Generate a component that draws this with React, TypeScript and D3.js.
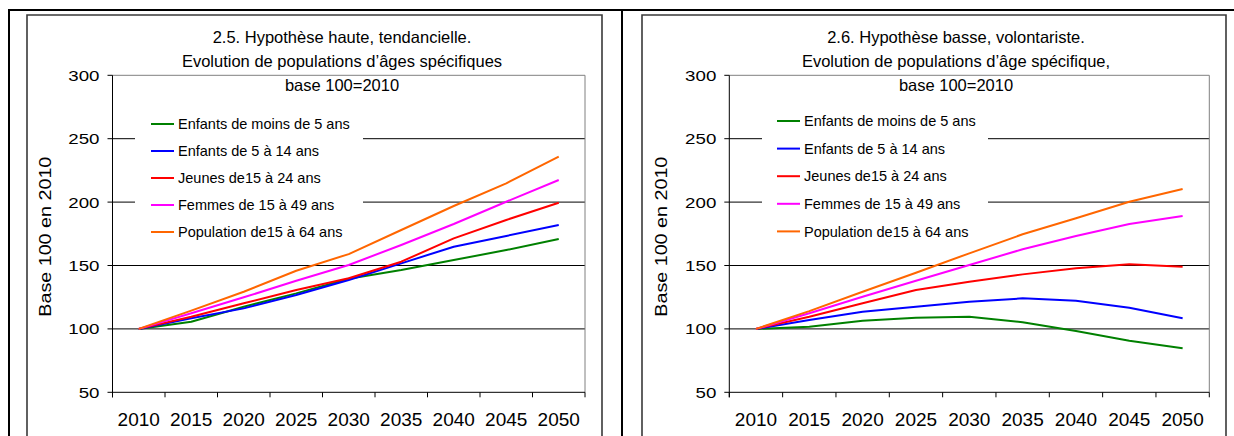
import React, { useEffect, useRef } from "react";
import * as d3 from "d3";

// categories
const years = ["2010", "2015", "2020", "2025", "2030", "2035", "2040", "2045", "2050"];
const yTicks = [50, 100, 150, 200, 250, 300];

const seriesNames = [
  "Enfants de moins de 5 ans",
  "Enfants de 5 à 14 ans",
  "Jeunes de15 à 24 ans",
  "Femmes de 15 à 49 ans",
  "Population de15 à 64 ans",
];
const seriesColors = ["#008000", "#0000ff", "#ff0000", "#ff00ff", "#ff6600"];

// 2.5 hypothese haute
const hauteMoins5 = [100, 105.7, 117.5, 128, 139.5, 146.4, 154.3, 162.2, 170.9];
const haute5a14 = [100, 108.4, 116.2, 126.7, 138.6, 151.7, 164.8, 173.3, 182];
const haute15a24 = [100, 109.6, 120.2, 130.7, 139.9, 153, 171.4, 185.9, 199.5];
const hauteFemmes = [100, 112.3, 124.9, 138, 150.4, 166.2, 182.7, 200.3, 217.4];
const hautePop = [100, 114.4, 129.3, 145.9, 159, 178, 196.9, 214.8, 235.8];

// 2.6 hypothese basse
const basseMoins5 = [100, 101.7, 106.5, 108.8, 109.6, 105.2, 98.3, 90.7, 84.7];
const basse5a14 = [100, 107, 113.6, 117.5, 121.5, 124.1, 122.2, 116.7, 108.4];
const basse15a24 = [100, 109.6, 120.2, 130.7, 137.2, 143, 147.8, 150.9, 149];
const basseFemmes = [100, 112.3, 125.4, 138, 150.4, 162.8, 173.3, 182.7, 189];
const bassePop = [100, 114, 129.3, 144.3, 159.6, 174.6, 187.2, 200.3, 210.3];

const titleHaute = [
  "2.5. Hypothèse haute, tendancielle.",
  "Evolution de populations d’âges spécifiques",
  "base 100=2010",
];
const titleBasse = [
  "2.6. Hypothèse basse, volontariste.",
  "Evolution de populations d’âge spécifique,",
  "base 100=2010",
];
const yTitle = "Base 100 en 2010";

const FONT = "'Liberation Sans', Arial, Helvetica, sans-serif";

type Panel = {
  frameL: number;
  frameR: number;
  plotL: number;
  plotR: number;
  titleX: number;
  titles: string[];
  series: number[][];
  legendBox: [number, number, number, number];
  legendX: number;
  legendY0: number;
  legendDy: number;
};

const panels: Panel[] = [
  {
    frameL: 27,
    frameR: 602,
    plotL: 112.5,
    plotR: 585,
    titleX: 342,
    titles: titleHaute,
    series: [hauteMoins5, haute5a14, haute15a24, hauteFemmes, hautePop],
    legendBox: [135, 108, 363, 242],
    legendX: 151,
    legendY0: 124,
    legendDy: 27,
  },
  {
    frameL: 642,
    frameR: 1226,
    plotL: 729.3,
    plotR: 1209.3,
    titleX: 956,
    titles: titleBasse,
    series: [basseMoins5, basse5a14, basse15a24, basseFemmes, bassePop],
    legendBox: [762, 106, 988, 240],
    legendX: 777,
    legendY0: 121,
    legendDy: 27.6,
  },
];

export default function App() {
  const ref = useRef<SVGSVGElement>(null);

  useEffect(() => {
    const svg = d3.select(ref.current);
    svg.selectAll("*").remove();

    // outer table borders
    svg.append("rect").attr("x", 0).attr("y", 0).attr("width", 1234).attr("height", 436).attr("fill", "#fff");
    svg.append("line").attr("x1", 8).attr("x2", 1234).attr("y1", 10).attr("y2", 10).attr("stroke", "#000").attr("stroke-width", 2);
    svg.append("line").attr("x1", 9).attr("x2", 9).attr("y1", 9).attr("y2", 436).attr("stroke", "#000").attr("stroke-width", 2);
    svg.append("line").attr("x1", 622).attr("x2", 622).attr("y1", 9).attr("y2", 436).attr("stroke", "#000").attr("stroke-width", 2);

    const y = d3.scaleLinear().domain([50, 300]).range([392.3, 75.3]);

    panels.forEach((p) => {
      const g = svg.append("g");

      // chart frame
      g.append("path")
        .attr("d", `M${p.frameL},437V15H${p.frameR}V437`)
        .attr("fill", "none")
        .attr("stroke", "#3a3a3a")
        .attr("stroke-width", 1.6);

      const x = d3.scaleBand<string>().domain(years).range([p.plotL, p.plotR]).padding(0);
      const cx = (d: string) => (x(d) ?? 0) + x.bandwidth() / 2;

      // gridlines
      g.selectAll(".grid")
        .data(yTicks.filter((t) => t > 50 && t < 300))
        .enter()
        .append("line")
        .attr("x1", p.plotL)
        .attr("x2", p.plotR)
        .attr("y1", (d) => y(d))
        .attr("y2", (d) => y(d))
        .attr("stroke", "#000")
        .attr("stroke-width", 1);

      // plot area border top/right
      g.append("path")
        .attr("d", `M${p.plotL},${y(300)}H${p.plotR}V${y(50)}`)
        .attr("fill", "none")
        .attr("stroke", "#808080")
        .attr("stroke-width", 1);

      // axes
      g.append("line").attr("x1", p.plotL).attr("x2", p.plotL).attr("y1", y(300)).attr("y2", y(50) + 5).attr("stroke", "#000");
      g.append("line").attr("x1", p.plotL).attr("x2", p.plotR).attr("y1", y(50)).attr("y2", y(50)).attr("stroke", "#000");

      g.selectAll(".ytick")
        .data(yTicks)
        .enter()
        .append("line")
        .attr("x1", p.plotL - 5)
        .attr("x2", p.plotL)
        .attr("y1", (d) => y(d))
        .attr("y2", (d) => y(d))
        .attr("stroke", "#000");

      g.selectAll(".ylab")
        .data(yTicks)
        .enter()
        .append("text")
        .attr("x", p.plotL - 13)
        .attr("y", (d) => y(d) + 5.4)
        .attr("text-anchor", "end")
        .attr("font-family", FONT)
        .attr("font-size", 15)
        .attr("textLength", (d) => String(d).length * 10.4)
        .attr("lengthAdjust", "spacingAndGlyphs")
        .text((d) => d);

      const bounds = years.map((d) => x(d) ?? 0).concat([p.plotR]);
      g.selectAll(".xtick")
        .data(bounds)
        .enter()
        .append("line")
        .attr("x1", (d) => d)
        .attr("x2", (d) => d)
        .attr("y1", y(50))
        .attr("y2", y(50) + 5)
        .attr("stroke", "#000");

      g.selectAll(".xlab")
        .data(years)
        .enter()
        .append("text")
        .attr("x", (d) => cx(d))
        .attr("y", 426)
        .attr("text-anchor", "middle")
        .attr("font-family", FONT)
        .attr("font-size", 19)
        .text((d) => d);

      // y title
      g.append("text")
        .attr("transform", `translate(${p.plotL - 62},236.7) rotate(-90)`)
        .attr("text-anchor", "middle")
        .attr("font-family", FONT)
        .attr("font-size", 16)
        .attr("textLength", 160)
        .attr("lengthAdjust", "spacingAndGlyphs")
        .text(yTitle);

      // title
      g.selectAll(".title")
        .data(p.titles)
        .enter()
        .append("text")
        .attr("x", p.titleX)
        .attr("y", (_, i) => 43 + i * 24)
        .attr("text-anchor", "middle")
        .attr("font-family", FONT)
        .attr("font-size", 16.5)
        .text((d) => d);

      // legend background
      const [lx0, ly0, lx1, ly1] = p.legendBox;
      g.append("rect").attr("x", lx0).attr("y", ly0).attr("width", lx1 - lx0).attr("height", ly1 - ly0).attr("fill", "#fff");

      // series
      const line = d3
        .line<number>()
        .x((_, i) => cx(years[i]))
        .y((d) => y(d));

      g.selectAll(".series")
        .data(p.series)
        .enter()
        .append("path")
        .attr("d", (d) => line(d))
        .attr("fill", "none")
        .attr("stroke", (_, i) => seriesColors[i])
        .attr("stroke-width", 2)
        .attr("stroke-linejoin", "round");

      // legend entries
      const leg = g
        .selectAll(".leg")
        .data(seriesNames)
        .enter()
        .append("g")
        .attr("transform", (_, i) => `translate(${p.legendX},${p.legendY0 + i * p.legendDy})`);
      leg.append("line").attr("x1", 0).attr("x2", 23).attr("y1", 0).attr("y2", 0).attr("stroke", (_, i) => seriesColors[i]).attr("stroke-width", 2);
      leg.append("text")
        .attr("x", 27)
        .attr("y", 5.2)
        .attr("font-family", FONT)
        .attr("font-size", 14.5)
        .text((d) => d);
    });
  }, []);

  return (
    <svg
      ref={ref}
      width={1234}
      height={436}
      style={{ position: "absolute", left: 0, top: 0, display: "block" }}
    />
  );
}
